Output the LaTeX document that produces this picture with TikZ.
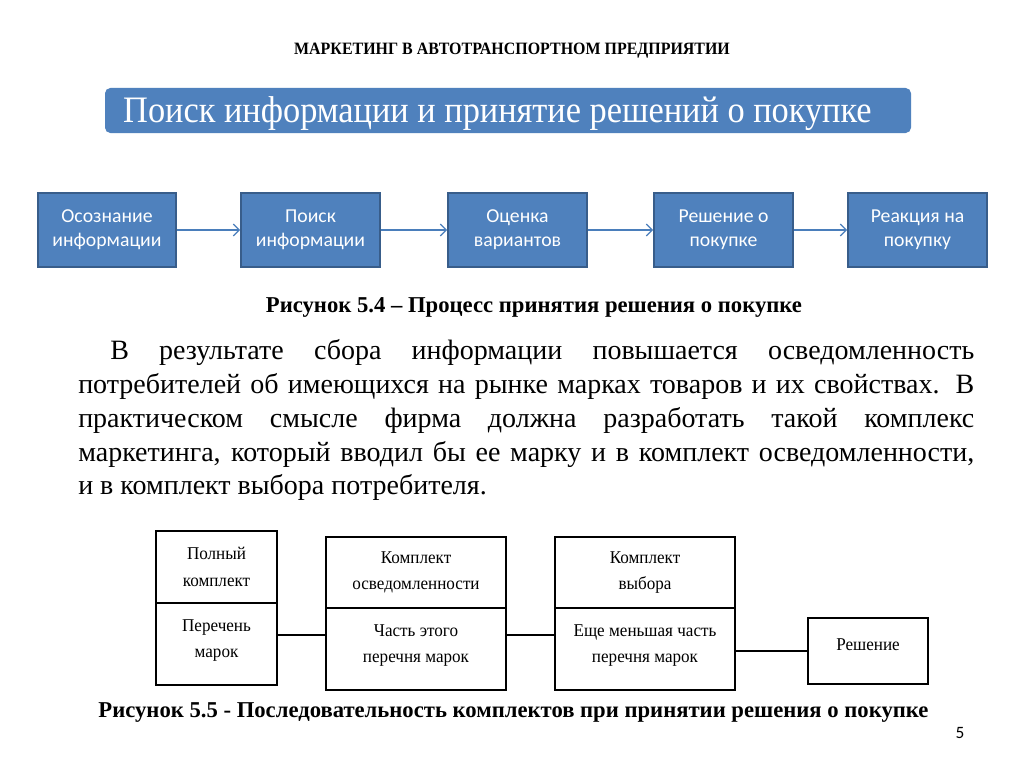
\documentclass[tikz,border=0pt]{standalone}
\usepackage{fontspec}
\setmainfont{Liberation Serif}
\newfontfamily\calib{Carlito}
\usetikzlibrary{arrows.meta}
\definecolor{bblue}{HTML}{4F81BD}
\definecolor{bborder}{HTML}{385D8A}
\definecolor{arrblue}{HTML}{4A7EBB}
\begin{document}
\begin{tikzpicture}[x=0.75pt,y=-0.75pt,
  proc/.style={draw=bborder, line width=1.5pt, fill=bblue, text=white,
    font=\calib\fontsize{14.8}{18}\selectfont, align=center,
    minimum width=104pt, minimum height=55.5pt, inner sep=0pt},
  parrow/.style={draw=arrblue, line width=0.9pt, -{Straight Barb[length=4.5pt,width=9pt]}},
  kbox/.style={draw=black, line width=1.1pt, inner sep=0pt},
  ktext/.style={font=\fontsize{13.5}{20}\selectfont, align=center, inner sep=0pt, xscale=0.95},
  kline/.style={draw=black, line width=1.1pt},
  caption/.style={font=\bfseries\fontsize{17}{20}\selectfont, inner sep=0pt}
]
\useasboundingbox (0,0) rectangle (1024,767);
\fill[white] (0,0) rectangle (1024,767);

% header
\node[font=\bfseries\fontsize{13}{15}\selectfont, inner sep=0pt, xscale=0.92] (header) at (512,51)
  {МАРКЕТИНГ В АВТОТРАНСПОРТНОМ ПРЕДПРИЯТИИ};

% title bar
\node[fill=bblue, rounded corners=4pt, minimum width=604.5pt, minimum height=33.75pt, inner sep=0pt] (titlebar) at (508,110.5) {};
\node[anchor=west, text=white, font=\fontsize{28}{32}\selectfont, inner sep=0pt, xscale=0.92] (titletext) at (123,114)
  {Поиск информации и принятие решений о покупке};

% process boxes
\node[proc] (p1) at (107,230) {Осознание\\информации};
\node[proc] (p2) at (310.5,230) {Поиск\\информации};
\node[proc] (p3) at (517.5,230) {Оценка\\вариантов};
\node[proc] (p4) at (723.5,230) {Решение о\\покупке};
\node[proc] (p5) at (917.5,230) {Реакция на\\покупку};
\draw[parrow] (p1) -- (p2);
\draw[parrow] (p2) -- (p3);
\draw[parrow] (p3) -- (p4);
\draw[parrow] (p4) -- (p5);

\node[caption] (cap1) at (534,307) {Рисунок 5.4 – Процесс принятия решения о покупке};

% paragraph
\node[anchor=north west, text width=672pt, align=justify, inner sep=0pt,
  font=\fontsize{21}{25.3}\selectfont] (para) at (78,339.5)
  {\hspace*{24pt}В результате сбора информации повышается осведомленность\linebreak
  потребителей об имеющихся на рынке марках товаров и их свойствах. В\linebreak
  практическом смысле фирма должна разработать такой комплекс\linebreak
  маркетинга, который вводил бы ее марку и в комплект осведомленности,\linebreak
  и в комплект выбора потребителя.};

% bottom boxes
\node[kbox, minimum width=90.75pt, minimum height=54pt] (a1) at (216.5,567) {};
\node[kbox, minimum width=90.75pt, minimum height=61.5pt] (a2) at (216.5,644) {};
\node[kbox, minimum width=135pt, minimum height=53.25pt] (b1) at (416,572.5) {};
\node[kbox, minimum width=135pt, minimum height=61.5pt] (b2) at (416,649) {};
\node[kbox, minimum width=135pt, minimum height=53.25pt] (c1) at (645,572.5) {};
\node[kbox, minimum width=135pt, minimum height=61.5pt] (c2) at (645,649) {};
\node[kbox, minimum width=90pt, minimum height=49.5pt] (d) at (868,651) {};

\node[ktext] (a1t) at (a1.center) {Полный\\комплект};
\node[ktext] (a2t) at ([yshift=2.5pt]a2.center) {Перечень\\марок};
\node[ktext] (b1t) at (b1.center) {Комплект\\осведомленности};
\node[ktext] (b2t) at ([yshift=2.5pt]b2.center) {Часть этого\\перечня марок};
\node[ktext] (c1t) at (c1.center) {Комплект\\выбора};
\node[ktext] (c2t) at ([yshift=2.5pt]c2.center) {Еще меньшая часть\\перечня марок};
\node[ktext] (dt) at ([yshift=5pt]d.center) {Решение};

\draw[kline] (a2.east |- 0,635) -- (b2.west |- 0,635);
\draw[kline] (b2.east |- 0,635) -- (c2.west |- 0,635);
\draw[kline] (c2.east |- 0,651) -- (d.west);

\node[caption] (cap2) at (513.5,712.5) {Рисунок 5.5 - Последовательность комплектов при принятии решения о покупке};

\node[font=\calib\fontsize{13}{15}\selectfont, inner sep=0pt] (pnum) at (960,733) {5};
\end{tikzpicture}
\end{document}
